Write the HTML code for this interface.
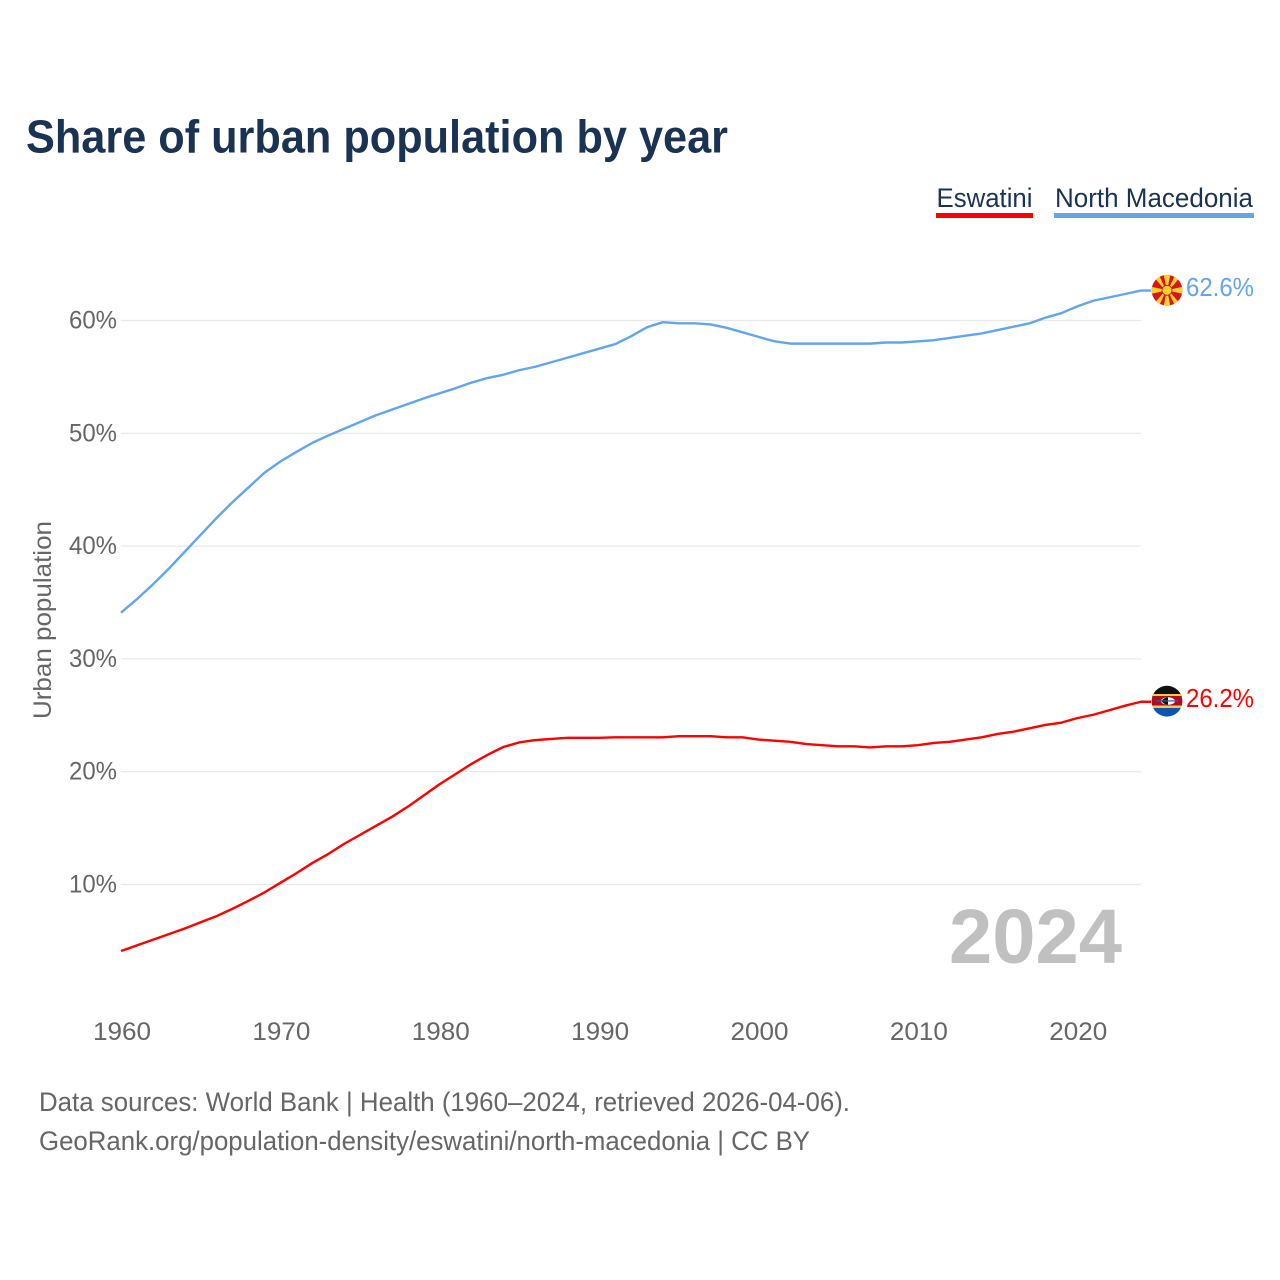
<!DOCTYPE html>
<html lang="en">
<head>
<meta charset="utf-8">
<title>Share of urban population by year</title>
<style>
html,body{margin:0;padding:0;background:#fff;width:1280px;height:1280px;overflow:hidden}
svg{display:block}
text{font-family:"Liberation Sans",sans-serif}
</style>
</head>
<body>
<svg id="chart" width="1280" height="1280" viewBox="0 0 1280 1280" xmlns="http://www.w3.org/2000/svg">
  <defs>
    <clipPath id="clip-mk"><circle cx="1167" cy="290.300" r="15.400"/></clipPath>
    <clipPath id="clip-sz"><circle cx="1167" cy="701.200" r="15.400"/></clipPath>
  </defs>
  <rect width="1280" height="1280" fill="#fff"/>
  <text x="26" y="152.500" font-size="46" font-weight="700" fill="#1a3353" textLength="702" lengthAdjust="spacingAndGlyphs">Share of urban population by year</text>

  <g>
    <g>
      <text x="936.500" y="207" font-size="27" fill="#1a3353" textLength="96" lengthAdjust="spacingAndGlyphs">Eswatini</text>
      <rect x="936" y="213" width="97" height="5" fill="#ff0000"/>
    </g>
    <g>
      <text x="1055" y="207" font-size="27" fill="#1a3353" textLength="198" lengthAdjust="spacingAndGlyphs">North Macedonia</text>
      <rect x="1054" y="213" width="200" height="5" fill="#62a5ec"/>
    </g>
  </g>

  <g id="grid"></g>
  <g id="y-ticks"></g>
  <g id="x-ticks"></g>

  <text transform="translate(51,620) rotate(-90)" text-anchor="middle" font-size="25" fill="#666" textLength="198" lengthAdjust="spacingAndGlyphs">Urban population</text>

  <text x="949" y="963" font-size="77" font-weight="700" fill="#c0c0c0" textLength="173" lengthAdjust="spacingAndGlyphs">2024</text>

  <g id="series"></g>

  <g clip-path="url(#clip-mk)">
    <rect x="1150" y="273" width="34" height="34" fill="#d8141e"/>
    <g fill="#f8d12f">
      <polygon points="1163.500,274 1170.500,274 1168,286 1166,286"/>
      <polygon points="1163.500,307 1170.500,307 1168,294 1166,294"/>
      <polygon points="1151,286.800 1151,293.800 1163,291.300 1163,289.300"/>
      <polygon points="1183,286.800 1183,293.800 1171,291.300 1171,289.300"/>
      <polygon points="1153,276 1158,273 1165,288 1164,289"/>
      <polygon points="1181,276 1176,273 1169,288 1170,289"/>
      <polygon points="1153,305 1158,308 1165,293 1164,292"/>
      <polygon points="1181,305 1176,308 1169,293 1170,292"/>
    </g>
    <circle cx="1167" cy="290.300" r="5" fill="#f8d12f" stroke="#d8141e" stroke-width="0.800"/>
  </g>
  <g clip-path="url(#clip-sz)">
    <rect x="1150" y="685" width="34" height="12" fill="#111"/>
    <rect x="1150" y="694" width="34" height="2.500" fill="#f7c948"/>
    <rect x="1150" y="696" width="34" height="10" fill="#b10c20"/>
    <rect x="1150" y="705.500" width="34" height="2.500" fill="#f7c948"/>
    <rect x="1150" y="708" width="34" height="10" fill="#0b55b0"/>
    <ellipse cx="1168" cy="701" rx="7" ry="3.800" fill="#fff"/>
    <path d="M1161 701 Q1165 697 1168 697.200 L1168 704.800 Q1165 705 1161 701Z" fill="#111"/>
    <rect x="1156" y="700.300" width="22" height="1.200" fill="#2a5fa8"/>
  </g>

  <text x="1186" y="296" font-size="26" fill="#62a5ec" textLength="68" lengthAdjust="spacingAndGlyphs">62.6%</text>
  <text x="1186" y="707" font-size="26" fill="#ff0000" textLength="68" lengthAdjust="spacingAndGlyphs">26.2%</text>

  <text x="39" y="1111" font-size="27" fill="#666" textLength="811" lengthAdjust="spacingAndGlyphs">Data sources: World Bank | Health (1960–2024, retrieved 2026-04-06).</text>
  <text x="39" y="1150" font-size="27" fill="#666" textLength="771" lengthAdjust="spacingAndGlyphs">GeoRank.org/population-density/eswatini/north-macedonia | CC BY</text>
</svg>
<script>
const years = [1960,1961,1962,1963,1964,1965,1966,1967,1968,1969,1970,1971,1972,1973,1974,1975,1976,1977,1978,1979,1980,1981,1982,1983,1984,1985,1986,1987,1988,1989,1990,1991,1992,1993,1994,1995,1996,1997,1998,1999,2000,2001,2002,2003,2004,2005,2006,2007,2008,2009,2010,2011,2012,2013,2014,2015,2016,2017,2018,2019,2020,2021,2022,2023,2024];
const northMacedonia = [34.1,35.3,36.6,38.0,39.5,41.0,42.5,43.9,45.2,46.5,47.5,48.35,49.15,49.8,50.4,51.0,51.6,52.1,52.6,53.1,53.55,54.0,54.5,54.9,55.2,55.6,55.9,56.3,56.7,57.1,57.5,57.9,58.6,59.4,59.85,59.75,59.75,59.65,59.35,58.95,58.55,58.15,57.95,57.95,57.95,57.95,57.95,57.95,58.05,58.05,58.15,58.25,58.45,58.65,58.85,59.15,59.45,59.75,60.25,60.65,61.25,61.75,62.05,62.35,62.65];
const eswatini = [4.1,4.6,5.1,5.6,6.1,6.65,7.2,7.85,8.55,9.3,10.15,11.0,11.9,12.7,13.6,14.4,15.2,16.0,16.9,17.9,18.9,19.8,20.7,21.5,22.2,22.6,22.8,22.9,23.0,23.0,23.0,23.05,23.05,23.05,23.05,23.15,23.15,23.15,23.05,23.05,22.85,22.75,22.65,22.45,22.35,22.25,22.25,22.15,22.25,22.25,22.35,22.55,22.65,22.85,23.05,23.35,23.55,23.85,24.15,24.35,24.75,25.05,25.45,25.85,26.2];
const yTickValues = [10,20,30,40,50,60];
const xTickValues = [1960,1970,1980,1990,2000,2010,2020];

const NS = 'http://www.w3.org/2000/svg';
const xScale = function (year) { return 121 + (year - 1960) * (1141 - 121) / 64; };
const yScale = function (value) { return 997.3 - value * 11.28; };

const gridGroup = document.getElementById('grid');
const yGroup = document.getElementById('y-ticks');
const xGroup = document.getElementById('x-ticks');
const seriesGroup = document.getElementById('series');

yTickValues.forEach(function (v) {
  const line = document.createElementNS(NS, 'line');
  
  
  line.setAttribute('x1', 121);
  line.setAttribute('x2', 1141);
  line.setAttribute('y1', yScale(v));
  line.setAttribute('y2', yScale(v));
  line.setAttribute('stroke', '#e8e8e8');
  line.setAttribute('stroke-width', '1.2');
  gridGroup.appendChild(line);

  const label = document.createElementNS(NS, 'text');
  
  
  label.setAttribute('x', 117);
  label.setAttribute('y', yScale(v) + 8);
  label.setAttribute('text-anchor', 'end');
  label.setAttribute('font-size', '25');
  label.setAttribute('fill', '#666');
  label.setAttribute('textLength', '48');
  label.setAttribute('lengthAdjust', 'spacingAndGlyphs');
  label.textContent = v + '%';
  yGroup.appendChild(label);
});

xTickValues.forEach(function (yr) {
  const label = document.createElementNS(NS, 'text');
  
  
  label.setAttribute('x', xScale(yr) + 1);
  label.setAttribute('y', 1040);
  label.setAttribute('text-anchor', 'middle');
  label.setAttribute('font-size', '25');
  label.setAttribute('fill', '#666');
  label.setAttribute('textLength', '58');
  label.setAttribute('lengthAdjust', 'spacingAndGlyphs');
  label.textContent = yr;
  xGroup.appendChild(label);
});

function pathFor(values) {
  let d = values.map(function (v, i) {
    return (i ? 'L' : 'M') + xScale(years[i]).toFixed(2) + ' ' + yScale(v).toFixed(2);
  }).join(' ');
  d += ' H' + (xScale(years[years.length - 1]) + 10);
  return d;
}

const eswatiniLine = document.createElementNS(NS, 'path');


eswatiniLine.setAttribute('d', pathFor(eswatini));
eswatiniLine.setAttribute('fill', 'none');
eswatiniLine.setAttribute('stroke', '#ff0000');
eswatiniLine.setAttribute('stroke-width', '2.4');
eswatiniLine.setAttribute('stroke-linejoin', 'round');
seriesGroup.appendChild(eswatiniLine);

const macedoniaLine = document.createElementNS(NS, 'path');


macedoniaLine.setAttribute('d', pathFor(northMacedonia));
macedoniaLine.setAttribute('fill', 'none');
macedoniaLine.setAttribute('stroke', '#62a5ec');
macedoniaLine.setAttribute('stroke-width', '2.4');
macedoniaLine.setAttribute('stroke-linejoin', 'round');
seriesGroup.appendChild(macedoniaLine);
</script>
</body>
</html>
